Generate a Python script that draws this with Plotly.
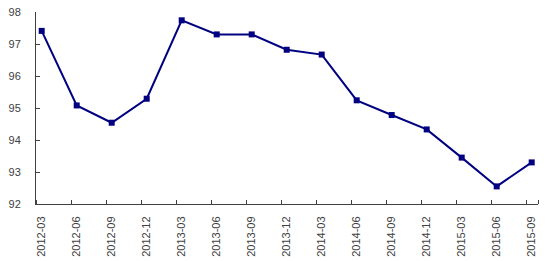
import plotly.graph_objects as go

categories = ["2012-03", "2012-06", "2012-09", "2012-12", "2013-03", "2013-06", "2013-09",
              "2013-12", "2014-03", "2014-06", "2014-09", "2014-12", "2015-03", "2015-06", "2015-09"]
values = [97.41, 95.08, 94.54, 95.29, 97.74, 97.30, 97.30, 96.82, 96.67, 95.24,
          94.78, 94.33, 93.45, 92.55, 93.30]
y_ticks = [92, 93, 94, 95, 96, 97, 98]

idx = list(range(len(categories)))

fig = go.Figure()
fig.add_trace(go.Scatter(
    x=idx, y=values, mode="lines+markers",
    line=dict(color="#000080", width=2),
    marker=dict(symbol="square", size=6, color="#000080"),
    showlegend=False, cliponaxis=False,
))

font = dict(family="Liberation Sans, DejaVu Sans, sans-serif", size=11, color="#404040")

fig.update_layout(
    width=554, height=261,
    margin=dict(l=36, r=16, t=12, b=57, autoexpand=False),
    paper_bgcolor="white", plot_bgcolor="white",
    xaxis=dict(
        range=[-0.163, 14.18], automargin=False,
        tickmode="array", tickvals=idx, ticktext=categories,
        tickangle=-90, ticks="", tickfont=font, ticklabelstandoff=7,
        showgrid=False, zeroline=False,
        showline=True, linecolor="#404040", linewidth=1,
        minor=dict(tickmode="array", tickvals=[i - 0.158 for i in idx] + [14.18],
                   ticks="inside", ticklen=4, tickcolor="#404040", showgrid=False),
    ),
    yaxis=dict(
        range=[92, 98], automargin=False,
        tickmode="array", tickvals=y_ticks, ticktext=[str(v) for v in y_ticks],
        ticks="inside", ticklen=4, tickcolor="#404040", ticklabelstandoff=12,
        tickfont=font, showgrid=False, zeroline=False,
        showline=True, linecolor="#404040", linewidth=1,
    ),
)

fig.write_html("out.html")
